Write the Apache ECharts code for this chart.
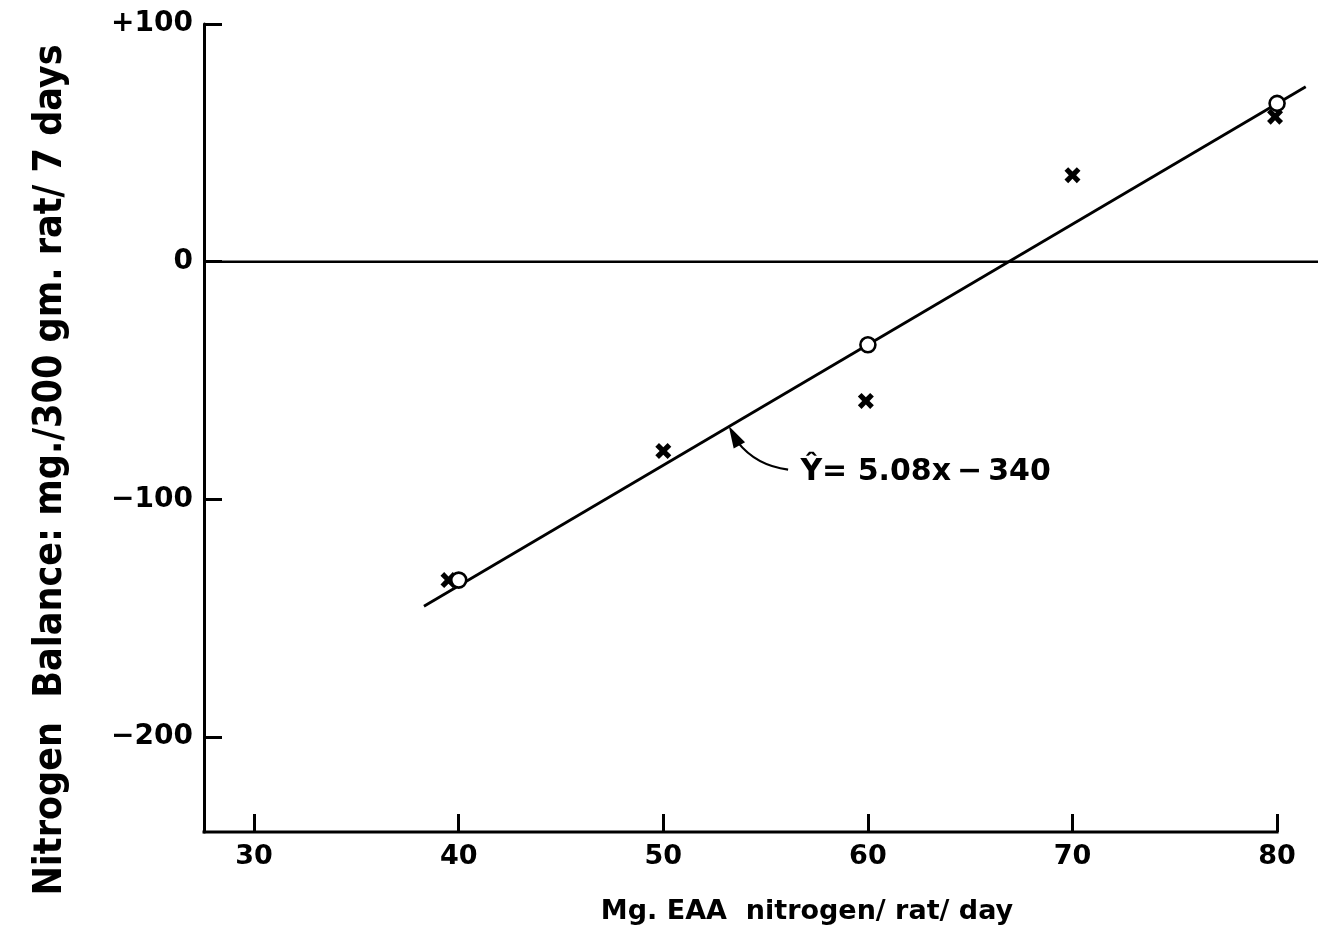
<!DOCTYPE html>
<html>
<head>
<meta charset="utf-8">
<script src="https://cdn.jsdelivr.net/npm/echarts@6/dist/echarts.min.js"></script>
<style>
html,body{margin:0;padding:0;background:#fff;}
#c{width:1318px;height:951px;}
</style>
</head>
<body>
<div id="c"></div>
<script>
// ---- data ----
const xTicks = [30, 40, 50, 60, 70, 80];
const yTicks = [100, 0, -100, -200];
const yTickLabels = {"100": "+100", "0": "0", "-100": "\u2212100", "-200": "\u2212200"};

const circleX = [40, 60, 80];
const circleY = [-134, -35, 66.6];

const crossX = [39.5, 50, 59.9, 70, 79.9];
const crossY = [-134, -79.7, -58.6, 36.4, 61];

const fitX = [38.3, 81.4];
const fitY = [-145, 73.6];

const zeroX = [27.55, 82.0];
const zeroY = [0, 0];

const equationText = "Ŷ= 5.08x\u2009\u2212\u2009340";
const xTitle = "Mg. EAA  nitrogen/ rat/ day";
const yTitle = "Nitrogen  Balance: mg./300 gm. rat/ 7 days";

// ---- helpers ----
const zip = (a, b) => a.map((v, i) => [v, b[i]]);
const FONT = "'DejaVu Sans', sans-serif";
const crossPath = 'path://M2.3,0 L5,2.7 L7.7,0 L10,2.3 L7.3,5 L10,7.7 L7.7,10 L5,7.3 L2.3,10 L0,7.7 L2.7,5 L0,2.3 Z';

const X_MIN = 27.55, X_AXIS_END = 80, X_MAX = 82.0;

const chart = echarts.init(document.getElementById('c'), null, {renderer: 'canvas'});

const option = {
  animation: false,
  backgroundColor: '#ffffff',
  grid: {left: 204, right: 0, top: 24, bottom: 119, containLabel: false},
  xAxis: {
    type: 'value',
    min: X_MIN, max: X_MAX,
    name: xTitle,
    nameLocation: 'middle',
    nameGap: 66,
    nameTextStyle: {fontFamily: FONT, fontSize: 27, fontWeight: 'bold', color: '#000', padding: [0, 0, 0, 92]},
    axisLine: {show: false, onZero: false},
    axisTick: {show: true, inside: true, length: 18, customValues: xTicks, lineStyle: {color: '#000', width: 3}},
    axisLabel: {show: true, customValues: xTicks, margin: 11, fontFamily: FONT, fontSize: 27, fontWeight: 'bold', color: '#000'},
    splitLine: {show: false}
  },
  yAxis: {
    type: 'value',
    min: -240, max: 100,
    name: yTitle,
    nameLocation: 'middle',
    nameRotate: 90,
    nameGap: 134,
    nameTextStyle: {fontFamily: "'DejaVu Sans Condensed', 'DejaVu Sans', sans-serif", fontSize: 39, fontWeight: 'bold', color: '#000', padding: [0, 84, 0, 0]},
    axisLine: {show: true, onZero: false, lineStyle: {color: '#000', width: 3}},
    axisTick: {show: true, inside: true, length: 18, customValues: yTicks, lineStyle: {color: '#000', width: 3}},
    axisLabel: {show: true, customValues: yTicks, margin: 11, fontFamily: FONT, fontSize: 28, fontWeight: 'bold', color: '#000',
      formatter: v => yTickLabels[String(v)] !== undefined ? yTickLabels[String(v)] : String(v)},
    splitLine: {show: false}
  },
  series: [
    {
      name: 'zero', type: 'line', data: zip(zeroX, zeroY),
      symbol: 'none', lineStyle: {color: '#000', width: 2.5}, z: 2, silent: true
    },
    {
      name: 'fit', type: 'line', data: zip(fitX, fitY),
      symbol: 'none', lineStyle: {color: '#000', width: 2.8}, z: 3, silent: true
    },
    {
      name: 'cross', type: 'scatter', data: zip(crossX, crossY),
      symbol: crossPath, symbolSize: 16, itemStyle: {color: '#000', opacity: 1}, z: 4
    },
    {
      name: 'circle', type: 'scatter', data: zip(circleX, circleY),
      symbol: 'circle', symbolSize: 15, itemStyle: {color: '#fff', borderColor: '#000', borderWidth: 2.6, opacity: 1}, z: 5
    }
  ]
};
chart.setOption(option);

// x axis baseline ends at the last tick (80), like the reference
const axL = chart.convertToPixel({gridIndex: 0}, [X_MIN, -240]);
const axR = chart.convertToPixel({gridIndex: 0}, [X_AXIS_END, -240]);

// annotation: equation label with curved arrow pointing at the fitted line
const tip = chart.convertToPixel({gridIndex: 0}, [53.2, -69.2]);
const start = chart.convertToPixel({gridIndex: 0}, [56.1, -87.5]);
const labelPos = chart.convertToPixel({gridIndex: 0}, [56.7, -88.8]);
const dx = -11, dy = -20;
const len = Math.hypot(dx, dy);
const ux = dx / len, uy = dy / len;
const headL = 22, headW = 6.5;
const base = [tip[0] - ux * headL, tip[1] - uy * headL];
const ctrl = [start[0] - 32, start[1] - 4];
const headPts = [
  [tip[0], tip[1]],
  [base[0] - uy * headW, base[1] + ux * headW],
  [base[0] + uy * headW, base[1] - ux * headW]
];

chart.setOption({
  graphic: [
    {
      type: 'line',
      shape: {x1: axL[0] - 1.5, y1: axL[1], x2: axR[0] + 1.5, y2: axR[1]},
      style: {stroke: '#000', lineWidth: 3},
      z: 10
    },
    {
      type: 'bezierCurve',
      shape: {x1: start[0], y1: start[1], x2: base[0] + ux * 4, y2: base[1] + uy * 4, cpx1: ctrl[0], cpy1: ctrl[1]},
      style: {stroke: '#000', lineWidth: 2.2, fill: null},
      z: 10
    },
    {
      type: 'polygon',
      shape: {points: headPts},
      style: {fill: '#000'},
      z: 10
    },
    {
      type: 'text',
      x: labelPos[0], y: labelPos[1],
      style: {text: equationText, font: "bold 30px 'DejaVu Sans', sans-serif", fill: '#000',
        textAlign: 'left', textVerticalAlign: 'middle'},
      z: 10
    }
  ]
});
</script>
</body>
</html>
